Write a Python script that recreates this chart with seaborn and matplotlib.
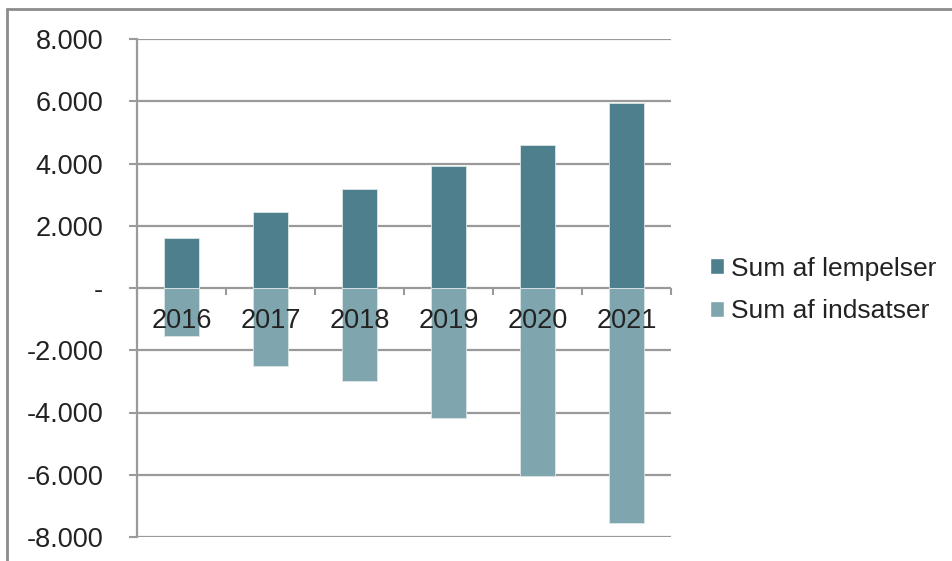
import numpy as np
import pandas as pd
import seaborn as sns
from matplotlib import pyplot as plt
from matplotlib.lines import Line2D
from matplotlib.patches import Patch

# --- DATA ---
years = ["2016", "2017", "2018", "2019", "2020", "2021"]
lempelser = [1600, 2440, 3180, 3920, 4600, 5950]
indsatser = [-1540, -2510, -2990, -4180, -6045, -7560]
y_ticks = [-8000, -6000, -4000, -2000, 0, 2000, 4000, 6000, 8000]

dark = "#4e7f8c"
light = "#7fa5ae"
grid_col = "#9a9a9a"
txt_col = "#222222"
fs = 19.5

sns.set_style("white")
plt.rcParams["font.family"] = ["Liberation Sans", "DejaVu Sans"]

df = pd.DataFrame({"year": years, "lempelser": lempelser, "indsatser": indsatser})

fig = plt.figure(figsize=(9.53, 5.61), dpi=100)
ax = fig.add_axes([137 / 953, 24 / 561, 534 / 953, 498 / 561])

sns.barplot(data=df, x="year", y="lempelser", color=dark, width=0.4,
            saturation=1, ax=ax, zorder=2, edgecolor="#dde6e8", linewidth=0.6)
sns.barplot(data=df, x="year", y="indsatser", color=light, width=0.4,
            saturation=1, ax=ax, zorder=2, edgecolor="#dde6e8", linewidth=0.6)

ax.set_xlim(-0.5, len(years) - 0.5)
ax.set_ylim(-8000, 8000)
ax.set_xlabel("")
ax.set_ylabel("")

# y axis
ax.set_yticks(y_ticks)
ax.set_yticklabels(["-" if v == 0 else f"{v:,}".replace(",", ".") for v in y_ticks],
                   fontsize=fs, color=txt_col)
ax.tick_params(axis="y", direction="out", length=5.8, width=1.5, color=grid_col, pad=18.5, left=True)
ax.yaxis.grid(True, color=grid_col, linewidth=1.6, zorder=0)
ax.set_axisbelow(True)

# x axis sits on the zero line, ticks at category boundaries
ax.spines["bottom"].set_position(("data", 0))
ax.spines["bottom"].set_visible(False)
ax.set_xticks([])
ax.set_xticks(np.arange(-0.5, len(years)), minor=True)
ax.tick_params(axis="x", which="minor", direction="out", length=5, width=1.5,
               color=grid_col, bottom=True)
for i, yr in enumerate(years):
    ax.text(i, -1050, yr, ha="center", va="center", fontsize=fs, color=txt_col, zorder=5)

for s in ["top", "right"]:
    ax.spines[s].set_visible(False)
ax.spines["left"].set_color(grid_col)
ax.spines["left"].set_linewidth(1.6)

# legend
handles = [Patch(facecolor=dark, label="Sum af lempelser"),
           Patch(facecolor=light, label="Sum af indsatser")]
fig.legend(handles=handles, loc="center left", bbox_to_anchor=(686 / 953, 1 - 290 / 561),
           frameon=False, fontsize=19, handlelength=0.55, handleheight=0.55,
           handletextpad=0.25, labelspacing=0.7, labelcolor=txt_col)

# chart frame
fig.add_artist(Line2D([7 / 953, 7 / 953], [0, 1 - 9 / 561], color="#8c8c8c", linewidth=2))
fig.add_artist(Line2D([7 / 953, 1], [1 - 9 / 561, 1 - 9 / 561], color="#8c8c8c", linewidth=2))

fig.savefig("out.png", dpi=100)
